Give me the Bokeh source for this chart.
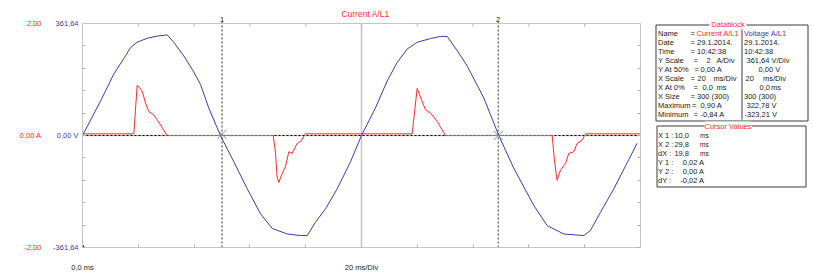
from bokeh.plotting import figure
from bokeh.models import Range1d, LinearAxis, FixedTicker, Span, Label
from bokeh.layouts import row
from bokeh.embed import file_html
from bokeh.resources import INLINE
from bokeh.core.properties import value

# ---------------- data ----------------
time_v = [0.0, 1.29, 2.24, 3.08, 3.44, 3.92, 4.64, 5.35, 6.07, 6.54, 7.26, 7.86, 8.46, 9.05, 9.89,
          10.85, 11.81, 12.76, 13.60, 14.67, 15.63, 16.11, 16.70, 17.42, 18.26, 19.21,
          20.0, 21.0, 21.84, 22.55, 23.27, 23.99, 24.94, 25.66, 26.14, 26.86, 27.57,
          28.77, 29.84, 30.92, 32.35, 33.31, 34.50, 35.93, 36.41, 37.13, 38.09, 39.76]
volt = [0, 111, 198, 257, 284, 301, 314, 321, 325, 301, 257, 214, 165, 89, 0,
        -85, -172, -253, -300, -318, -323, -323, -280, -237, -172, -85,
        0, 89, 176, 235, 279, 301, 313, 320, 320, 274, 225,
        121, 0, -106, -226, -291, -318, -323, -307, -248, -172, -25]

time_i = [0.0, 3.68, 3.92, 4.28, 4.52, 4.75, 5.11, 5.59, 6.07,
          13.67, 13.83, 13.95, 14.07, 14.31, 14.55, 14.79, 15.03, 15.39, 15.63, 15.98,
          23.63, 23.99, 24.35, 24.59, 24.95, 25.43, 26.02,
          33.67, 33.83, 34.02, 34.26, 34.62, 34.86, 35.22, 35.46, 35.82, 36.06, 40.0]
curr = [0.03, 0.03, 0.90, 0.79, 0.58, 0.43, 0.37, 0.19, 0.0,
        0.0, -0.30, -0.74, -0.84, -0.68, -0.56, -0.29, -0.32, -0.14, -0.11, 0.03,
        0.03, 0.84, 0.61, 0.46, 0.40, 0.25, 0.0,
        0.0, -0.44, -0.80, -0.62, -0.50, -0.32, -0.29, -0.14, -0.08, 0.03, 0.03]

cursor_x = [10.0, 29.8]
cursor_y = [0.02, 0.00]
cursor_names = ["1", "2"]

v_full = 361.64
i_full = 2.0
t_end = 40.0
n_div = 10

v_ticks = [-v_full, 0, v_full]
v_labels = ["-361,64", "0,00 V", "361,64"]
i_ticks = [-i_full, 0, i_full]
i_labels = ["-2,00", "0,00 A", "2,00"]
x_ticks = [0, 20]
x_labels = ["0,0 ms", "20 ms/Div"]
title_text = "Current A/L1"

db_title = "Datablock"
db_names = ["Name", "Date", "Time", "Y Scale", "Y At 50%", "X Scale", "X At 0%", "X Size", "Maximum", "Minimum"]
db_cur = [["=", "Current A/L1"], ["= 29.1.2014."], ["= 10:42:38"], ["=", "2", "A/Div"],
          ["=", "0,00 A"], ["=", "20", "ms/Div"], ["=", "0,0", "ms"], ["= 300 (300)"],
          ["=", "0,90 A"], ["=", "-0,84 A"]]
db_volt = [["Voltage A/L1"], ["29.1.2014."], ["10:42:38"], ["361,64 V/Div"], ["0,00 V"],
           ["20", "ms/Div"], ["0,0", "ms"], ["300 (300)"], ["322,78 V"], ["-323,21 V"]]

cv_title = "Cursor Values"
cv_names = ["X 1 :", "X 2 :", "dX :", "Y 1 :", "Y 2 :", "dY :"]
cv_values = ["10,0", "29,8", "19,8", "0,02 A", "0,00 A", "-0,02 A"]
cv_units = ["ms", "ms", "ms", "", "", ""]

# ---------------- style / layout ----------------
FONT = "Liberation Sans"
FS = "7.5px"
BLUE = "#3c3ca4"
RED = "#ff2b2b"
TXT = "#222222"
EDGE = "#c4c4c4"
TICK = "#b0b0b0"

H = 276
FRAME_TOP = 8          # frame starts above the scope box so the cursor numbers & title fit
BOX_TOP = 23
BOX_BOTTOM = 247
BOX_H = BOX_BOTTOM - BOX_TOP
extra = (BOX_TOP - FRAME_TOP) / BOX_H * 2   # fraction of full scale above the box
vpp = 2 * v_full / BOX_H                     # volts per pixel

p = figure(width=645, height=H, x_range=Range1d(0, t_end),
           y_range=Range1d(-v_full, v_full * (1 + extra)),
           output_backend="svg", toolbar_location=None,
           min_border_left=82, min_border_right=5, min_border_top=FRAME_TOP,
           min_border_bottom=H - BOX_BOTTOM,
           x_axis_location=None, y_axis_location=None)
p.extra_y_ranges = {"cur": Range1d(-i_full, i_full * (1 + extra))}
p.grid.visible = False
p.outline_line_color = None
p.background_fill_color = "white"
p.border_fill_color = "white"

v_minor = [v_full * k / (n_div // 2) for k in range(-(n_div // 2), n_div // 2 + 1)]
x_minor = [t_end * k / n_div for k in range(n_div + 1)]


def style_axis(ax, color, standoff, line=None):
    ax.axis_line_color = line
    ax.major_tick_in = 0
    ax.major_tick_out = 0
    ax.minor_tick_in = 3
    ax.minor_tick_out = 0
    ax.minor_tick_line_color = TICK
    ax.major_label_text_font = FONT
    ax.major_label_text_font_size = FS
    ax.major_label_text_color = color
    ax.major_label_standoff = standoff


yv = LinearAxis(ticker=FixedTicker(ticks=v_ticks, minor_ticks=v_minor),
                major_label_overrides=dict(zip(v_ticks, v_labels)), bounds=(-v_full, v_full))
style_axis(yv, BLUE, 4, EDGE)
yi = LinearAxis(y_range_name="cur", ticker=FixedTicker(ticks=i_ticks, minor_ticks=[]),
                major_label_overrides=dict(zip(i_ticks, i_labels)))
style_axis(yi, RED, 9)
yi.minor_tick_line_color = None
p.add_layout(yv, "left")
p.add_layout(yi, "left")

xb = LinearAxis(ticker=FixedTicker(ticks=x_ticks, minor_ticks=x_minor),
                major_label_overrides=dict(zip(x_ticks, x_labels)))
style_axis(xb, TXT, 15, EDGE)
p.add_layout(xb, "below")

yr = LinearAxis(ticker=FixedTicker(ticks=[], minor_ticks=v_minor), bounds=(-v_full, v_full))
style_axis(yr, TXT, 0, EDGE)
p.add_layout(yr, "right")

# top edge of the scope box and its division ticks
p.add_layout(Span(location=v_full, dimension="width", line_color=EDGE, line_width=1))
p.segment(x0=x_minor, y0=[v_full] * len(x_minor), x1=x_minor, y1=[v_full - 3 * vpp] * len(x_minor),
          line_color=TICK, line_width=1)

# centre lines
p.segment(x0=[t_end / 2], y0=[-v_full], x1=[t_end / 2], y1=[v_full], line_color=EDGE,
          line_width=1.5, level="underlay")
p.add_layout(Span(location=0, dimension="width", line_color=EDGE, line_width=1.5, level="underlay"))
p.add_layout(Span(location=0, dimension="width", line_color="black", line_dash="2 2", line_width=1,
                  level="underlay"))

p.line(time_v, volt, line_color=BLUE, line_width=1)
p.line(time_i, curr, line_color=RED, line_width=1, y_range_name="cur")

# zero-current stretches marked with the teal reference dashes
z0 = [time_i[k] for k in range(len(curr) - 1) if curr[k] == 0 and curr[k + 1] == 0]
z1 = [time_i[k + 1] for k in range(len(curr) - 1) if curr[k] == 0 and curr[k + 1] == 0]
p.segment(x0=z0, y0=0, x1=z1, y1=0, y_range_name="cur", line_color="#35c0b0",
          line_dash="2 2", line_dash_offset=2, line_width=1)

# cursors
p.segment(x0=cursor_x, y0=[v_full + 2 * vpp] * len(cursor_x), x1=cursor_x, y1=[-v_full] * len(cursor_x),
          line_color="#333333", line_dash="2 2", line_width=1)
for cx, nm in zip(cursor_x, cursor_names):
    p.add_layout(Label(x=cx, y=v_full, text=nm, y_offset=2, text_align="center", text_baseline="bottom",
                       text_font=FONT, text_font_size=FS, text_color="#222222"))
p.scatter(cursor_x, cursor_y, marker="x", size=13, line_color="#8a8a8a", line_width=1, y_range_name="cur")
p.scatter([0], [-v_full], marker="triangle", size=5, fill_color="black", line_color="black")

p.add_layout(Label(x=t_end / 2, y=v_full, x_offset=4, y_offset=5, text=title_text, text_align="center",
                   text_baseline="bottom", text_font=FONT, text_font_size="8.5px", text_color=RED))

# ---------------- side panel (page-pixel coordinates) ----------------
q = figure(width=167, height=H, x_range=Range1d(645, 812), y_range=Range1d(BOX_BOTTOM, FRAME_TOP),
           output_backend="svg", toolbar_location=None, min_border_left=0, min_border_right=0,
           min_border_top=FRAME_TOP, min_border_bottom=H - BOX_BOTTOM,
           x_axis_location=None, y_axis_location=None)
q.grid.visible = False
q.outline_line_color = None
q.background_fill_color = "white"
q.border_fill_color = "white"

BOX = "#3a3a3a"
q.quad(left=[655.5], right=[807.5], top=[24.5], bottom=[120.5], fill_color=None, line_color=BOX, line_width=1)
q.segment(x0=[741.5], y0=[28], x1=[741.5], y1=[119], line_color=BOX, line_width=1)
q.quad(left=[656.5], right=[805.5], top=[125.5], bottom=[186.5], fill_color=None, line_color=BOX, line_width=1)
q.quad(left=[709], right=[746], top=[20], bottom=[29], fill_color="white", line_color=None)
q.quad(left=[704], right=[751], top=[121], bottom=[130], fill_color="white", line_color=None)

tkw = dict(text_font=value(FONT), text_font_size=value(FS), text_baseline="middle")
q.text([727.5], [24], text=[db_title], text_align="center", text_color=RED, **tkw)
q.text([727.5], [125.5], text=[cv_title], text_align="center", text_color=RED, **tkw)

row_y = [32.5 + 9.1 * k for k in range(len(db_names))]
q.text([657.5] * len(db_names), row_y, text=db_names, text_align="left", text_color=TXT, **tkw)

cur_x = [[690, 696], [690], [690], [693, 706, 716], [694, 700], [690, 697, 713],
         [693, 702, 716], [690], [691.5, 700], [693, 700]]
volt_x = [[743.5], [743.5], [743.5], [746], [758], [745, 762.5], [759, 770.5], [743.5], [746], [744]]
for k, (pieces, xs) in enumerate(zip(db_cur, cur_x)):
    for j, (s, xx) in enumerate(zip(pieces, xs)):
        col = RED if (k == 0 and j == 1) else TXT
        q.text([xx], [row_y[k]], text=[s], text_align="left", text_color=col, **tkw)
for k, (pieces, xs) in enumerate(zip(db_volt, volt_x)):
    for j, (s, xx) in enumerate(zip(pieces, xs)):
        col = BLUE if k == 0 else TXT
        q.text([xx], [row_y[k]], text=[s], text_align="left", text_color=col, **tkw)

cv_y = [135 + 9.0 * k for k in range(len(cv_names))]
q.text([657.5] * len(cv_names), cv_y, text=cv_names, text_align="left", text_color=TXT, **tkw)
val_right = [688.5 if u else 704 for u in cv_units]
q.text(val_right, cv_y, text=cv_values, text_align="right", text_color=TXT, **tkw)
q.text([699.5] * len(cv_units), cv_y, text=cv_units, text_align="left", text_color=TXT,
       text_font=value(FONT), text_font_size=value("6.5px"), text_baseline="middle")

layout = row(p, q, spacing=0)
open("out.html", "w").write(file_html(layout, INLINE))
